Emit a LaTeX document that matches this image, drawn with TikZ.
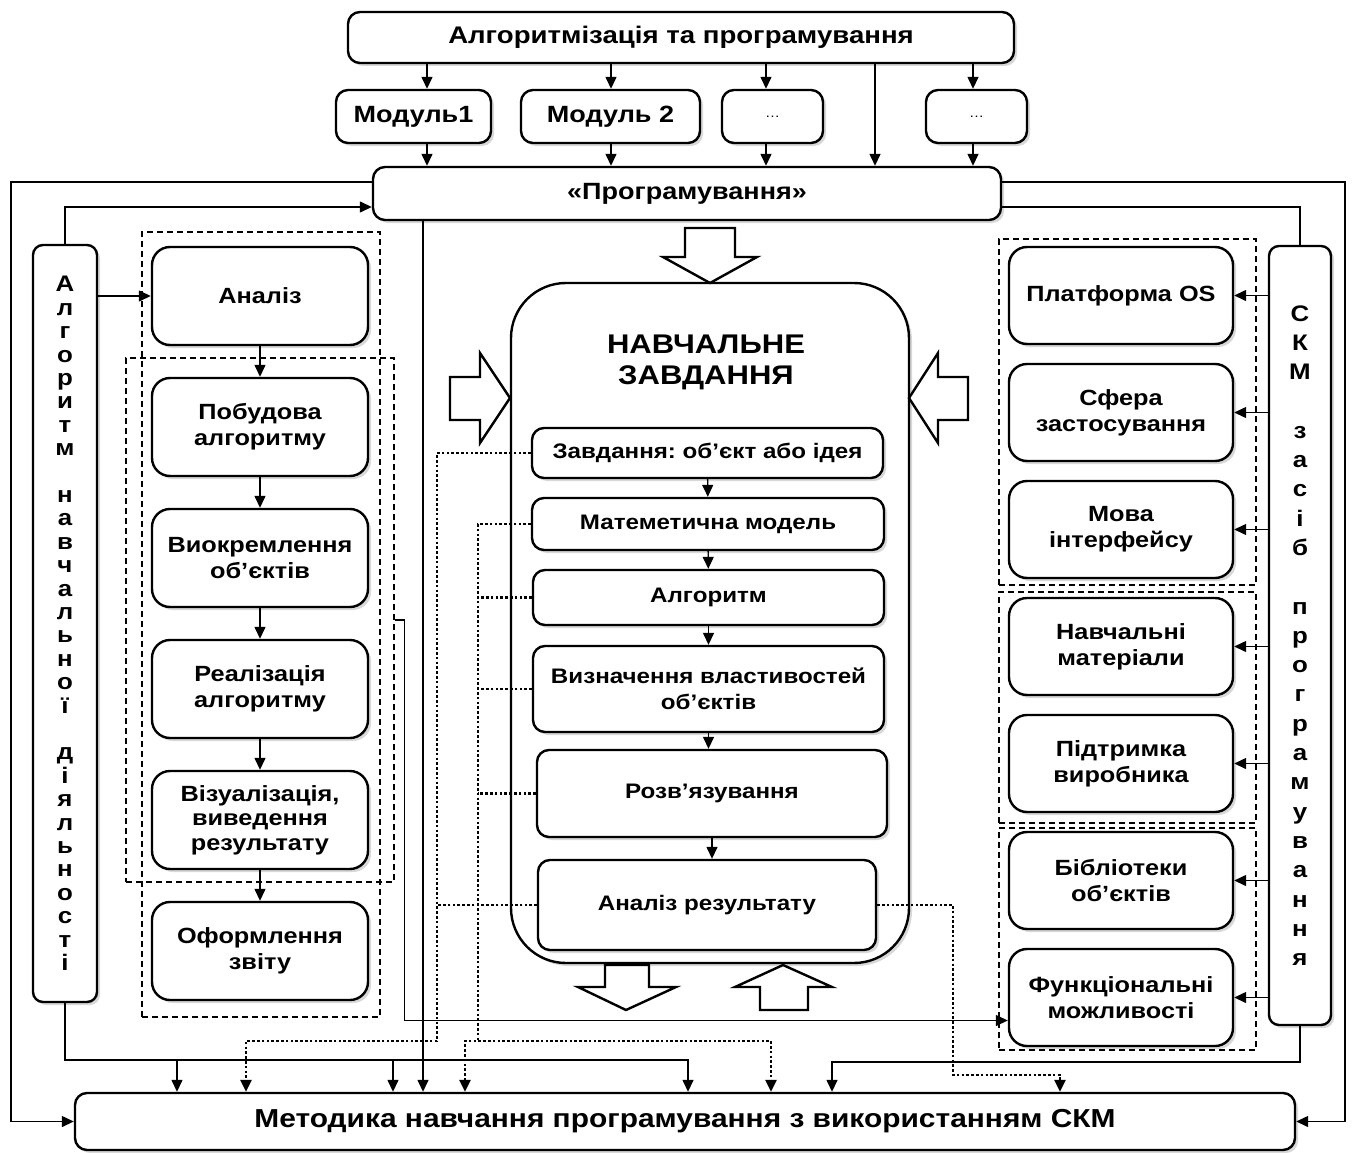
\documentclass[tikz,border=0pt]{standalone}
\usepackage{fontspec}
\setmainfont{Liberation Sans}[FakeStretch=1.15]
\usetikzlibrary{positioning, shadows, arrows.meta}
\tikzset{
	block/.style={draw, line width=2.4pt, rounded corners=12pt, fill=white, align=center, drop shadow={shadow xshift=3pt, shadow yshift=-3pt, fill=black!30}, font=\bfseries\fontsize{22}{26}\selectfont},
	stage/.style={block, rounded corners=18pt, minimum width=216pt, minimum height=98pt},
	tool/.style={block, rounded corners=18pt, minimum width=224pt, minimum height=97pt},
	taskbox/.style={block, font=\bfseries\fontsize{21}{26}\selectfont},
	vtext/.style={block, rounded corners=10pt},
	% dashed frames round groups of boxes
	group/.style={draw, line width=1.2pt, dash pattern=on 6pt off 4pt, minimum width=257pt},
	dots/.style={line width=2.8pt, dash pattern=on 2.6pt off 2.2pt},
	hollow/.style={line width=2.4pt, fill=white, line join=miter},
}

\begin{document}
\begin{tikzpicture}[x=1pt, y=-1pt]
	\useasboundingbox (0,0) rectangle (1354,1153);
	
	% dashed frames
	\node (lout) [group, minimum width=238pt, minimum height=785pt] at (261,624.5) {};
	\node (lin) [group, minimum width=268pt, minimum height=524pt] at (260,620) {};
	\node (g1) [group, minimum height=346pt] at (1127.5,412) {};
	\node (g2) [group, minimum height=231pt] at (1127.5,707.5) {};
	\node (g3) [group, minimum height=222pt] at (1127.5,939) {};
	
	\node (alg) [block, minimum width=666pt, minimum height=51pt, font=\bfseries\fontsize{24}{26}\selectfont] at (681,37.5) {Алгоритмізація та програмування};
	\node (m1) [block, minimum width=155pt, minimum height=53pt, font=\bfseries\fontsize{23.5}{26}\selectfont] at (413.5,116.5) {Модуль1};
	\node (m2) [block, minimum width=179pt, minimum height=53pt, font=\bfseries\fontsize{23.5}{26}\selectfont] at (610.5,116.5) {Модуль 2};
	\node (m3) [block, minimum width=101pt, minimum height=53pt, font=\fontsize{13}{15}\selectfont] at (772.5,116.5) {…};
	\node (m4) [block, minimum width=101pt, minimum height=53pt, font=\fontsize{13}{15}\selectfont] at (976.5,116.5) {…};
	\node (prog) [block, minimum width=628pt, minimum height=53pt, font=\bfseries\fontsize{23.5}{26}\selectfont] at (687,193.5) {«Програмування»};
	
	\node (algd) [vtext, minimum width=64pt, minimum height=757pt, font=\bfseries\fontsize{22.5}{23.4}\selectfont] at (65,623.5) {А\\л\\г\\о\\р\\и\\т\\м\\[23.4pt]н\\а\\в\\ч\\а\\л\\ь\\н\\о\\ї\\[23.4pt]д\\і\\я\\л\\ь\\н\\о\\с\\т\\і};
	\node (skm) [vtext, minimum width=62pt, minimum height=779pt, font=\bfseries\fontsize{22.5}{29.3}\selectfont] at (1300,635.5) {С\\К\\М\\[29.3pt]з\\а\\с\\і\\б\\[29.3pt]п\\р\\о\\г\\р\\а\\м\\у\\в\\а\\н\\н\\я};
	
	% left column
	\node (an) [stage] at (260,296) {Аналіз};
	\node (pb) [stage, below=30.6pt of an] {Побудова\\алгоритму};
	\node (vk) [stage, below=30.6pt of pb] {Виокремлення\\об’єктів};
	\node (rl) [stage, below=30.6pt of vk] {Реалізація\\алгоритму};
	\node (vz) [stage, below=30.6pt of rl, font=\bfseries\fontsize{22}{24.5}\selectfont] {Візуалізація,\\виведення\\результату};
	\node (of) [stage, below=30.6pt of vz] {Оформлення\\звіту};
	
	% right column
	\node (pl) [tool] at (1121,295.5) {Платформа OS};
	\node (sf) [tool, below=17.6pt of pl] {Сфера\\застосування};
	\node (mv) [tool, below=17.6pt of sf] {Мова\\інтерфейсу};
	\node (nm) [tool, below=17.6pt of mv] {Навчальні\\матеріали};
	\node (pd) [tool, below=17.6pt of nm] {Підтримка\\виробника};
	\node (bb) [tool, below=17.6pt of pd] {Бібліотеки\\об’єктів};
	\node (fn) [tool, below=17.6pt of bb] {Функціональні\\можливості};
	
	% centre
	\node (task) [block, rounded corners=55pt, minimum width=398pt, minimum height=680pt] at (710,623) {};
	\node (title) [align=center, font=\bfseries\fontsize{27}{31}\selectfont] at (706,362) {НАВЧАЛЬНЕ\\ЗАВДАННЯ};
	\node (zd) [taskbox, minimum width=351pt, minimum height=50pt] at (707.5,453) {Завдання:\ об’єкт або ідея};
	\node (mm) [taskbox, minimum width=352pt, minimum height=52pt] at (708,524) {Матеметична модель};
	\node (al) [taskbox, minimum width=351pt, minimum height=55pt] at (708.5,597.5) {Алгоритм};
	\node (vl) [taskbox, minimum width=351pt, minimum height=86pt] at (708.5,689) {Визначення властивостей\\об’єктів};
	\node (rz) [taskbox, minimum width=350pt, minimum height=87pt] at (712,793.5) {Розв’язування};
	\node (ar) [taskbox, minimum width=338pt, minimum height=90pt] at (707,905) {Аналіз результату};
	
	\node (meth) [block, minimum width=1220pt, minimum height=57pt, font=\bfseries\fontsize{26}{28}\selectfont] at (685,1121.5) {Методика навчання програмування з використанням СКМ};
	
	% hollow arrows round the task
	\draw[hollow] (685,228) -- (735,228) -- (735,257) -- (757,257) -- (710,283) -- (663,257) -- (685,257) -- cycle;
	\draw[hollow] (450,377) -- (480,377) -- (480,353) -- (510,398) -- (480,443) -- (480,420) -- (450,420) -- cycle;
	\draw[hollow] (968,377) -- (938,377) -- (938,353) -- (909,398) -- (938,443) -- (938,420) -- (968,420) -- cycle;
	\draw[hollow] (605,965) -- (649,965) -- (649,987) -- (676,987) -- (626,1010) -- (578,987) -- (605,987) -- cycle;
	\draw[hollow] (760,1010) -- (808,1010) -- (808,987) -- (832,987) -- (783,965) -- (735,987) -- (760,987) -- cycle;
	
	\begin{scope}[line width=1.4pt, black, ->, >={Triangle[length=12pt, width=11pt]}]
		\draw (427,0 |- alg.south) -- (427,0 |- m1.north);
		\draw (611,0 |- alg.south) -- (611,0 |- m2.north);
		\draw (766,0 |- alg.south) -- (766,0 |- m3.north);
		\draw (973,0 |- alg.south) -- (973,0 |- m4.north);
		\draw (427,0 |- m1.south) -- (427,0 |- prog.north);
		\draw (611,0 |- m2.south) -- (611,0 |- prog.north);
		\draw (766,0 |- m3.south) -- (766,0 |- prog.north);
		\draw (973,0 |- m4.south) -- (973,0 |- prog.north);
		\draw (875,0 |- alg.south) -- (875,0 |- prog.north);
		
		\draw (prog.west |- 0,182) -- (11,182) |- (meth.west);
		\draw (prog.east |- 0,182) -- (1345,182) |- (meth.east);
		\draw (algd.north) |- (prog.west |- 0,207);
		\draw[-] (prog.east |- 0,207) -| (skm.north);
		\draw (prog.south -| 423,0) -- (423,0 |- meth.north);
		
		\draw (algd.east |- an.west) -- (an.west);
		\draw (an) -- (pb);
		\draw (pb) -- (vk);
		\draw (vk) -- (rl);
		\draw (rl) -- (vz);
		\draw (vz) -- (of);
		
		\draw (skm.west |- pl.east) -- (pl.east);
		\draw (skm.west |- sf.east) -- (sf.east);
		\draw (skm.west |- mv.east) -- (mv.east);
		\draw (skm.west |- nm.east) -- (nm.east);
		\draw (skm.west |- pd.east) -- (pd.east);
		\draw (skm.west |- bb.east) -- (bb.east);
		\draw (skm.west |- fn.east) -- (fn.east);
		
		\draw (zd) -- (mm);
		\draw (mm) -- (al);
		\draw (al) -- (vl);
		\draw (vl.south) -- (vl.south |- rz.north);
		\draw (rz.south) -- (rz.south |- ar.north);
		
		\draw (algd.south) |- (688,1060) -- (688,0 |- meth.north);
		\draw (177,1060) -- (177,0 |- meth.north);
		\draw (393,1060) -- (393,0 |- meth.north);
		\draw (skm.south) |- (832,1062) -- (832,0 |- meth.north);
		\draw (lin.east) -- ++(10,0) |- ([yshift=-23pt]fn.west);
		
		% dotted links of the task steps
		\draw[dots] (zd.west) -| (437,1041) -- (246,1041) -- (246,0 |- meth.north);
		\draw[dots, -] (ar.west) -- (437,0 |- ar.west);
		\draw[dots, -] (mm.west) -| (478,1041);
		\draw[dots, -] (al.west) -- (478,0 |- al.west);
		\draw[dots, -] (vl.west) -- (478,0 |- vl.west);
		\draw[dots, -] (rz.west) -- (478,0 |- rz.west);
		\draw[dots, <->] (465,0 |- meth.north) -- (465,1041) -- (771,1041) -- (771,0 |- meth.north);
		\draw[dots] (ar.east) -- (953,0 |- ar.east) -- (953,1075) -- (1060,1075) -- (1060,0 |- meth.north);
	\end{scope}
	
\end{tikzpicture}
\end{document}
